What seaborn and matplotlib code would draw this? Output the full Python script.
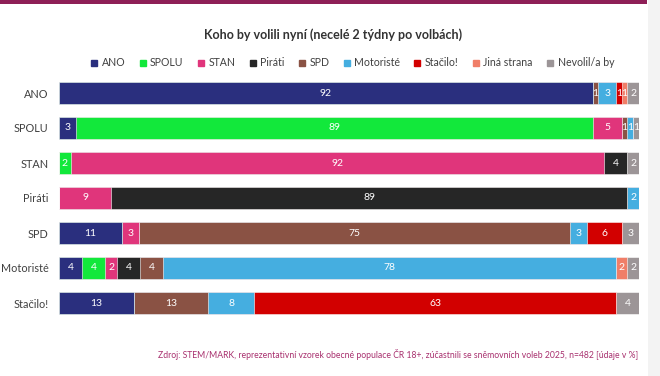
import matplotlib
matplotlib.use("Agg")
import matplotlib.pyplot as plt
import seaborn as sns
import pandas as pd
import numpy as np
from matplotlib.patches import Rectangle
from matplotlib.lines import Line2D

# ---- data ----
categories = ["ANO", "SPOLU", "STAN", "Piráti", "SPD", "Motoristé", "Stačilo!"]
series = ["ANO", "SPOLU", "STAN", "Piráti", "SPD", "Motoristé", "Stačilo!", "Jiná strana", "Nevolil/a by"]
v_ano      = [92, 3, 0, 0, 11, 4, 13]
v_spolu    = [0, 89, 2, 0, 0, 4, 0]
v_stan     = [0, 5, 92, 9, 3, 2, 0]
v_pirati   = [0, 0, 4, 89, 0, 4, 0]
v_spd      = [1, 1, 0, 0, 75, 4, 13]
v_motor    = [3, 1, 0, 2, 3, 78, 8]
v_stacilo  = [1, 0, 0, 0, 6, 0, 63]
v_jina     = [1, 0, 0, 0, 0, 2, 0]
v_nevolil  = [2, 1, 2, 0, 3, 2, 4]
title = "Koho by volili nyní (necelé 2 týdny po volbách)"
source = "Zdroj: STEM/MARK, reprezentativní vzorek obecné populace ČR 18+, zúčastnili se sněmovních voleb 2025, n=482 [údaje v %]"

colors = ["#2a2f7e", "#12e83b", "#e0357b", "#262626", "#8a5244",
          "#45aee0", "#d20000", "#f07e68", "#9c9597"]

vals = np.array([v_ano, v_spolu, v_stan, v_pirati, v_spd, v_motor,
                 v_stacilo, v_jina, v_nevolil], dtype=float)
shares = vals / vals.sum(axis=0) * 100  # 100% stacked
cum = np.cumsum(shares, axis=0)

sns.set_theme(style="white")
plt.rcParams["font.family"] = ["Lato", "DejaVu Sans"]

fig = plt.figure(figsize=(6.6, 3.76), dpi=100)
fig.patch.set_facecolor("white")
# decorations: top maroon band and right gray strip
fig.add_artist(Rectangle((0, 1 - 3.5 / 376), 647 / 660, 3.5 / 376,
                         transform=fig.transFigure, color="#8e1f57", lw=0))
fig.add_artist(Rectangle((648 / 660, 0), 12 / 660, 1,
                         transform=fig.transFigure, color="#f3f3f3", lw=0))

ax = fig.add_axes([59 / 660, 1 - 320.5 / 376, 580 / 660, 245 / 376])

for i in range(len(series) - 1, -1, -1):
    df = pd.DataFrame({"cat": categories, "end": cum[i]})
    sns.barplot(data=df, x="end", y="cat", orient="h", color=colors[i],
                width=0.63, ax=ax, saturation=1, edgecolor="white", linewidth=0.4)

for i in range(len(series)):
    for j in range(len(categories)):
        v = vals[i, j]
        if v <= 0:
            continue
        start = cum[i, j] - shares[i, j]
        ax.text(start + shares[i, j] / 2, j, f"{int(v)}", ha="center", va="center",
                color="white", fontsize=7.5)

ax.set_xlim(0, 100)
ax.set_ylim(6.5, -0.5)
ax.set_xlabel("")
ax.set_ylabel("")
ax.set_xticks([])
for s in ax.spines.values():
    s.set_visible(False)
ax.tick_params(axis="y", length=0, pad=7.5, labelsize=7.8, labelcolor="#404040")

fig.text(333 / 660, 1 - 35 / 376, title, ha="center", va="center",
         fontsize=9, fontweight="bold", color="#333333")

handles = [Line2D([], [], marker="s", linestyle="", markersize=5,
                  markerfacecolor=c, markeredgecolor=c) for c in colors]
fig.legend(handles, series, loc="center", bbox_to_anchor=(352 / 660, 1 - 63 / 376),
           ncol=9, frameon=False, fontsize=7.6, handletextpad=0.3,
           columnspacing=1.25, handlelength=0.8, labelcolor="#404040")

fig.text(638 / 660, 1 - 354 / 376, source, ha="right", va="center",
         fontsize=6.2, color="#a8306e")

fig.savefig("out.png", dpi=100, facecolor="white")
